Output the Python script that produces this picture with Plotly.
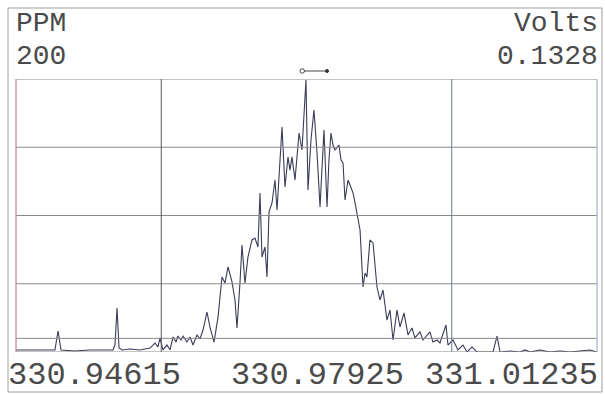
import plotly.graph_objects as go

# Spectrum trace: mass (m/z) and intensity (PPM)
mass = [
    330.94615, 330.94775, 330.94945, 330.95059, 330.95094, 330.95128, 330.95287, 330.95458,
    330.95629, 330.95720, 330.95743, 330.95766, 330.95789, 330.95823, 330.95914, 330.96028,
    330.96142, 330.96199, 330.96233, 330.96256, 330.96290, 330.96335, 330.96370, 330.96404,
    330.96438, 330.96461, 330.96495, 330.96518, 330.96563, 330.96598, 330.96632, 330.96677,
    330.96711, 330.96746, 330.96791, 330.96825, 330.96871, 330.96917, 330.96962, 330.96996,
    330.97031, 330.97076, 330.97110, 330.97133, 330.97167, 330.97190, 330.97224, 330.97258,
    330.97304, 330.97338, 330.97372, 330.97395, 330.97418, 330.97452, 330.97475, 330.97498,
    330.97532, 330.97566, 330.97589, 330.97623, 330.97646, 330.97680, 330.97714, 330.97737,
    330.97760, 330.97794, 330.97840, 330.97874, 330.97896, 330.97919, 330.97942, 330.97976,
    330.98010, 330.98045, 330.98079, 330.98102, 330.98124, 330.98159, 330.98181, 330.98204,
    330.98227, 330.98250, 330.98295, 330.98318, 330.98341, 330.98364, 330.98398, 330.98421,
    330.98455, 330.98478, 330.98500, 330.98535, 330.98569, 330.98592, 330.98614, 330.98648,
    330.98683, 330.98728, 330.98762, 330.98797, 330.98842, 330.98876, 330.98911, 330.98956,
    330.98990, 330.99036, 330.99081, 330.99127, 330.99161, 330.99218, 330.99252, 330.99298,
    330.99332, 330.99366, 330.99412, 330.99446, 330.99514, 330.99537, 330.99594, 330.99651,
    330.99708, 330.99754, 330.99811, 330.99868, 330.99925, 330.99993, 331.00050, 331.00096,
    331.00130, 331.00244, 331.00358, 331.00415, 331.00472, 331.00585, 331.00699, 331.00813,
    331.00927, 331.01041, 331.01155, 331.01235,
]
ppm = [
    1.5, 1.5, 1.5, 1.5, 15.4, 1.5, 0.7, 1.5,
    1.5, 1.5, 5.1, 32.2, 2.9, 1.5, 2.2, 1.5,
    2.9, 6.6, 3.7, 10.3, 1.5, 5.1, 1.5, 11.0,
    7.3, 11.7, 8.8, 11.7, 7.3, 11.0, 5.1, 12.5,
    9.5, 16.1, 29.3, 18.3, 7.3, 25.6, 54.9, 50.5,
    62.3, 51.3, 38.1, 17.6, 50.5, 78.4, 50.5, 69.6,
    82.1, 83.5, 76.9, 116.5, 69.6, 76.9, 54.9, 102.6,
    109.2, 126.0, 104.0, 144.3, 164.8, 120.9, 142.9, 133.3,
    142.9, 126.0, 160.4, 148.0, 170.0, 199.3, 118.7, 155.3,
    177.3, 145.8, 106.2, 140.7, 162.6, 106.2, 140.7, 160.4,
    151.6, 148.0, 151.6, 140.7, 138.5, 111.4, 126.0, 122.3,
    116.5, 109.2, 101.8, 89.4, 47.6, 57.9, 54.9, 82.1,
    79.9, 47.6, 38.1, 45.4, 23.4, 30.8, 8.8, 30.8,
    18.3, 28.6, 12.5, 17.6, 10.3, 14.7, 8.8, 12.5,
    14.7, 7.3, 8.8, 6.6, 19.8, 5.1, 8.8, 1.5,
    5.1, 0.0, 3.7, 0.0, 0.0, 0.0, 0.0, 11.7,
    0.0, 0.7, 0.0, 1.5, 0.0, 1.5, 0.0, 0.7,
    0.0, 0.7, 1.5, 0.0,
]

# Axis extents and labels
mass_min, mass_mid, mass_max = 330.94615, 330.97925, 331.01235
ppm_full_scale = 200
ppm_grid = [0, 50, 100, 150, 200]
ppm_threshold = 10
mass_labels = ["330.94615", "330.97925", "331.01235"]
scale_label, scale_value = "PPM", "200"
volts_label, volts_value = "Volts", "0.1328"

W, H = 605, 394
L, R, T, B = 16, 8, 79, 42
pw, ph = W - L - R, H - T - B


def px(x):
    return (x - L) / pw


def py(y):
    return (H - B - y) / ph


quarter = (mass_max - mass_min) / 4
vgrid = [mass_min + quarter, mass_min + 3 * quarter]

FONT = "Courier New, Liberation Mono, monospace"
TXT = "#4a4a4a"

fig = go.Figure()
fig.add_trace(go.Scatter(
    x=mass, y=ppm, mode="lines",
    line=dict(color="#3a3c58", width=1.1),
    hoverinfo="x+y", showlegend=False,
))

shapes = []
# horizontal grid
for g in ppm_grid:
    shapes.append(dict(type="line", xref="paper", yref="y", x0=0, x1=1, y0=g, y1=g,
                       line=dict(color="#8a8a8a", width=1)))
shapes.append(dict(type="line", xref="paper", yref="y", x0=0, x1=1,
                   y0=ppm_threshold, y1=ppm_threshold, line=dict(color="#8a8a8a", width=1)))
# vertical grid
shapes.append(dict(type="line", xref="x", yref="paper", x0=vgrid[0], x1=vgrid[0], y0=0, y1=1,
                   line=dict(color="#5a5560", width=1)))
shapes.append(dict(type="line", xref="x", yref="paper", x0=vgrid[1], x1=vgrid[1], y0=0, y1=1,
                   line=dict(color="#6f7a98", width=1)))
shapes.append(dict(type="line", xref="paper", yref="paper", x0=0, x1=0, y0=0, y1=1,
                   line=dict(color="#c98a9a", width=1.3)))
shapes.append(dict(type="line", xref="paper", yref="paper", x0=1, x1=1, y0=0, y1=1,
                   line=dict(color="#a9b8c8", width=1.3)))
# outer frame
shapes.append(dict(type="rect", xref="paper", yref="paper",
                   x0=px(8), x1=px(602), y0=py(392), y1=py(8),
                   line=dict(color="#a0a0a0", width=1)))
# peak marker
shapes.append(dict(type="line", xref="paper", yref="paper",
                   x0=px(303), x1=px(327), y0=py(71), y1=py(71),
                   line=dict(color="#444", width=1)))
shapes.append(dict(type="circle", xref="paper", yref="paper",
                   x0=px(300), x1=px(304.5), y0=py(73.2), y1=py(68.8),
                   line=dict(color="#444", width=1), fillcolor="white"))
shapes.append(dict(type="circle", xref="paper", yref="paper",
                   x0=px(325.5), x1=px(328.5), y0=py(72.5), y1=py(69.5),
                   line=dict(color="#333", width=1), fillcolor="#333"))

ann = []
def text(s, x, y, anchor, size):
    ann.append(dict(text=s, xref="paper", yref="paper", x=px(x), y=py(y),
                    xanchor=anchor, yanchor="middle", showarrow=False,
                    borderpad=0,
                    font=dict(family=FONT, size=size, color=TXT)))

text(scale_label, 15, 23, "left", 28)
text(scale_value, 15, 56, "left", 28)
text(volts_label, 599, 23, "right", 28)
text(volts_value, 599, 56, "right", 28)
text(mass_labels[0], 7, 375, "left", 32)
text(mass_labels[1], 317, 375, "center", 32)
text(mass_labels[2], 599, 375, "right", 32)

fig.update_layout(
    width=W, height=H,
    margin=dict(l=L, r=R, t=T, b=B),
    paper_bgcolor="white", plot_bgcolor="white",
    xaxis=dict(range=[mass_min, mass_max], showgrid=False, zeroline=False,
               showticklabels=False, ticks=""),
    yaxis=dict(range=[0, ppm_full_scale], showgrid=False, zeroline=False,
               showticklabels=False, ticks=""),
    shapes=shapes, annotations=ann,
)

fig.write_html("out.html")
